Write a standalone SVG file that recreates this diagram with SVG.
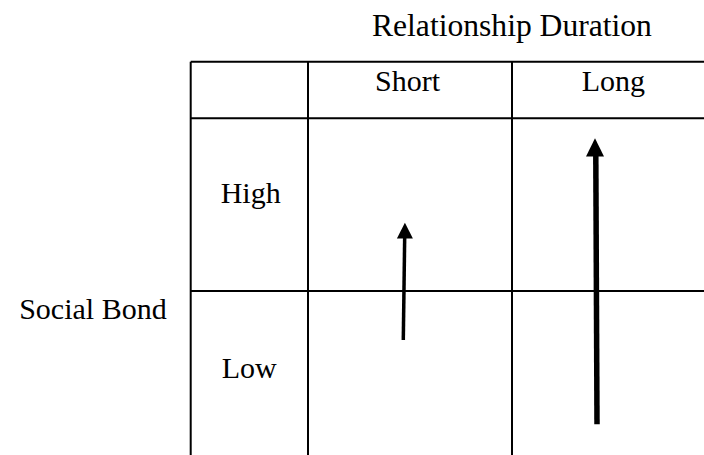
<svg xmlns="http://www.w3.org/2000/svg" width="704" height="455" viewBox="0 0 704 455">
<style>
.t{font-family:"Liberation Serif","Times New Roman",serif;font-size:30px;fill:#000}
.g{stroke:#000;stroke-width:2;fill:none}
.sh{stroke:#000;fill:none}
</style>
<rect width="704" height="455" fill="#fff"/>
<g id="title"><text class="t" x="372" y="36" style="font-size:31.6px">Relationship Duration</text></g>
<g id="rowlabel"><text class="t" x="166.7" y="319" text-anchor="end">Social Bond</text></g>
<g id="grid">
<path class="g" d="M190.7 61.7H720M190.7 118.3H720M190.7 291H720M190.7 61.7V470M308 61.7V470M512 61.7V470"/>
</g>
<g id="short"><text class="t" x="375" y="91">Short</text></g>
<g id="long"><text class="t" x="581.7" y="91">Long</text></g>
<g id="high"><text class="t" x="220.7" y="203.3">High</text></g>
<g id="low"><text class="t" x="221.7" y="378.3">Low</text></g>
<g id="connectors">
<path class="sh" stroke-width="3.5" d="M403.3 340L404.7 236"/>
<polygon points="404.9,222.7 396.9,238.5 412.9,238.5"/>
<path class="sh" stroke-width="5.5" d="M597 424.3L595.8 154"/>
<polygon points="595,138.3 586,156.5 604,156.5"/>
</g>
</svg>
